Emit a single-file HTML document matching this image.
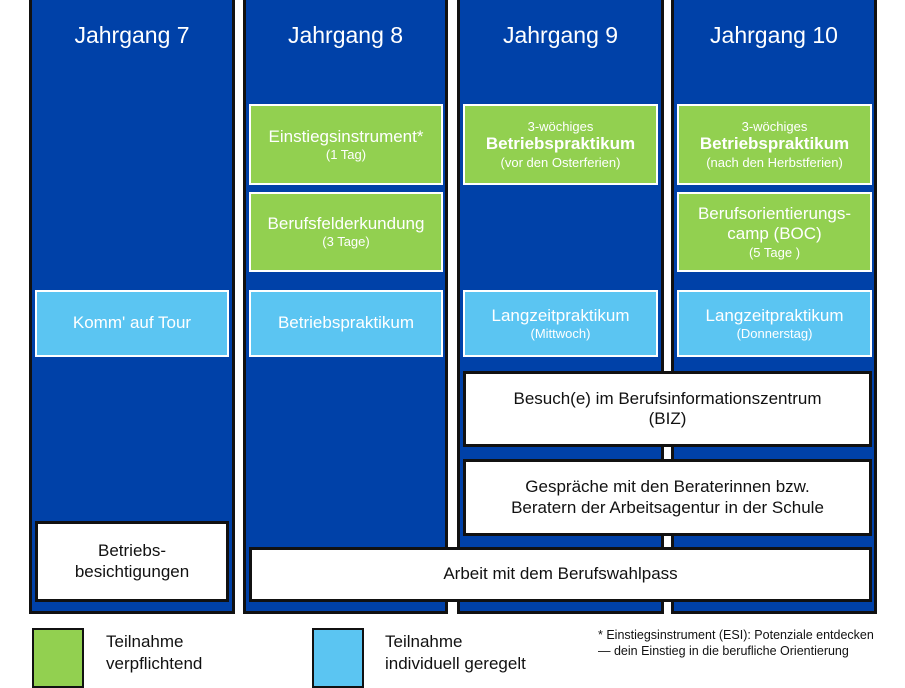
<!DOCTYPE html>
<html><head><meta charset="utf-8"><style>
body{margin:0;width:905px;height:675px;background:#fff;position:relative;overflow:hidden;font-family:"Liberation Sans","DejaVu Sans",sans-serif}
.c{position:absolute;top:-4px;height:618px;background:#0041a8;border:3px solid #111;box-sizing:border-box}
.h{position:absolute;top:23px;width:100%;text-align:center;color:#fff;font-size:23px}
.b{position:absolute;box-sizing:border-box;display:flex;flex-direction:column;justify-content:center;align-items:center;text-align:center;line-height:1.2}
.g{background:#92d050;border:2px solid #fff;color:#fff}
.l{background:#5bc5f2;border:2px solid #fff;color:#fff}
.w{background:#fff;border:3px solid #111;color:#111;font-size:17px}
.s{font-size:13px}
.m{font-size:17px}
.bb{font-size:17px;font-weight:bold}
</style></head><body>
<div class="c" style="left:29px;width:206px"><div class="h">Jahrgang 7</div></div>
<div class="c" style="left:243px;width:205px"><div class="h">Jahrgang 8</div></div>
<div class="c" style="left:457px;width:207px"><div class="h">Jahrgang 9</div></div>
<div class="c" style="left:671px;width:206px"><div class="h">Jahrgang 10</div></div>

<div class="b g" style="left:249px;top:104px;width:194px;height:81px"><div class="m">Einstiegsinstrument*</div><div class="s">(1 Tag)</div></div>
<div class="b g" style="left:249px;top:192px;width:194px;height:80px"><div class="m">Berufsfelderkundung</div><div class="s">(3 Tage)</div></div>
<div class="b g" style="left:463px;top:104px;width:195px;height:81px"><div class="s">3-wöchiges</div><div class="bb">Betriebspraktikum</div><div class="s">(vor den Osterferien)</div></div>
<div class="b g" style="left:677px;top:104px;width:195px;height:81px"><div class="s">3-wöchiges</div><div class="bb">Betriebspraktikum</div><div class="s">(nach den Herbstferien)</div></div>
<div class="b g" style="left:677px;top:192px;width:195px;height:80px"><div class="m">Berufsorientierungs-</div><div class="m">camp (BOC)</div><div class="s">(5 Tage )</div></div>

<div class="b l" style="left:35px;top:290px;width:194px;height:67px"><div class="m">Komm' auf Tour</div></div>
<div class="b l" style="left:249px;top:290px;width:194px;height:67px"><div class="m">Betriebspraktikum</div></div>
<div class="b l" style="left:463px;top:290px;width:195px;height:67px"><div class="m">Langzeitpraktikum</div><div class="s">(Mittwoch)</div></div>
<div class="b l" style="left:677px;top:290px;width:195px;height:67px"><div class="m">Langzeitpraktikum</div><div class="s">(Donnerstag)</div></div>

<div class="b w" style="left:463px;top:371px;width:409px;height:76px"><div>Besuch(e) im Berufsinformationszentrum</div><div>(BIZ)</div></div>
<div class="b w" style="left:463px;top:459px;width:409px;height:77px"><div>Gespräche mit den Beraterinnen bzw.</div><div>Beratern der Arbeitsagentur in der Schule</div></div>
<div class="b w" style="left:35px;top:521px;width:194px;height:81px"><div>Betriebs-</div><div>besichtigungen</div></div>
<div class="b w" style="left:249px;top:547px;width:623px;height:55px"><div>Arbeit mit dem Berufswahlpass</div></div>

<div style="position:absolute;left:32px;top:628px;width:52px;height:60px;background:#92d050;border:2px solid #111;box-sizing:border-box"></div>
<div style="position:absolute;left:312px;top:628px;width:52px;height:60px;background:#5bc5f2;border:2px solid #111;box-sizing:border-box"></div>
<div style="position:absolute;left:106px;top:631px;font-size:17px;line-height:22px;color:#111">Teilnahme<br>verpflichtend</div>
<div style="position:absolute;left:385px;top:631px;font-size:17px;line-height:22px;color:#111">Teilnahme<br>individuell geregelt</div>
<div style="position:absolute;left:598px;top:627px;font-size:12.5px;line-height:16px;color:#111;white-space:nowrap">* Einstiegsinstrument (ESI): Potenziale entdecken<br>— dein Einstieg in die berufliche Orientierung</div>
</body></html>
